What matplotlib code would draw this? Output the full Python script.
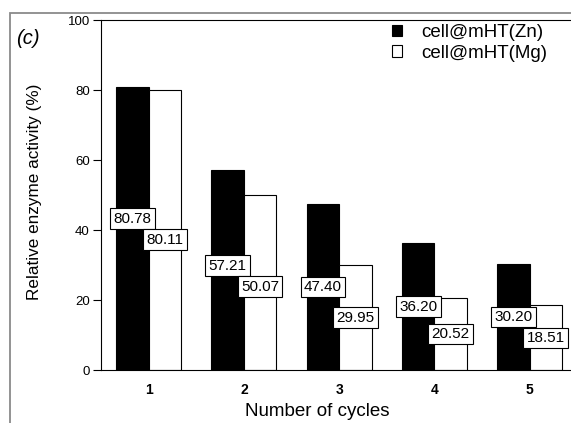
'''Relative enzyme activity over reuse cycles.'''

import numpy as np
import matplotlib
matplotlib.use('Agg')
import matplotlib.pyplot as plt
from matplotlib.patches import Rectangle

plt.rcParams['font.family'] = ['Liberation Sans', 'DejaVu Sans']

# data
cycles = [1, 2, 3, 4, 5]
activity_zn = [80.78, 57.21, 47.40, 36.20, 30.20]
activity_mg = [80.11, 50.07, 29.95, 20.52, 18.51]
series_names = ['cell@mHT(Zn)', 'cell@mHT(Mg)']
y_ticks = [0, 20, 40, 60, 80, 100]

W, H = 571, 423
fig = plt.figure(figsize=(W / 100, H / 100), dpi=100)
ax = fig.add_axes([101 / W, 53 / H, 481 / W, 350 / H])

# outer grey frame of the original panel (cropped on the right/bottom)
fig.patches.append(Rectangle((10 / W, -0.1), 1.2, 1 - 13 / H + 0.1,
                             transform=fig.transFigure, fill=False,
                             edgecolor='#8a8a8a', linewidth=1.3))
# cut-off panel caption at the top (only its lowest strokes show)
fig.text(297 / W, 1.0 + 4 / H, 'g)', ha='center', va='baseline', fontsize=14)

x = np.array(cycles, dtype=float)
w = 0.34
ax.bar(x - w / 2, activity_zn, width=w, color='black', edgecolor='black',
       linewidth=0.8, label=series_names[0])
ax.bar(x + w / 2, activity_mg, width=w, color='white', edgecolor='black',
       linewidth=0.8, label=series_names[1])

# value boxes roughly at half bar height, pushed apart when they collide
box = dict(boxstyle='square,pad=0.22', facecolor='white', edgecolor='black',
           linewidth=0.8)
for xi, a, b in zip(x, activity_zn, activity_mg):
    ya, yb = a / 2, b / 2
    if ya - yb < 6:
        mid = (ya + yb) / 2
        ya, yb = mid + 3, mid - 3
    ax.text(xi - w / 2, ya, f'{a:.2f}', ha='center', va='center',
            fontsize=11, bbox=box)
    ax.text(xi + w / 2, yb, f'{b:.2f}', ha='center', va='center',
            fontsize=11, bbox=box)

ax.set_xlim(0.5, 5.55)
ax.set_ylim(0, 100)
ax.set_xticks(cycles)
ax.set_yticks(y_ticks)
ax.tick_params(axis='x', length=0, pad=9, labelsize=10)
ax.tick_params(axis='y', direction='out', length=6, width=0.8, pad=2,
               labelsize=9.5)
for lbl in ax.get_xticklabels():
    lbl.set_fontweight('bold')
for sp in ax.spines.values():
    sp.set_linewidth(0.8)

ax.set_xlabel('Number of cycles', fontsize=13.5)
ax.xaxis.set_label_coords(317 / W, 1 - 403 / H, transform=fig.transFigure)
ax.set_ylabel('Relative enzyme activity (%)', fontsize=12.3)
ax.yaxis.set_label_coords(42 / W, 1 - 192 / H, transform=fig.transFigure)

fig.text(16 / W, 1 - 39 / H, '(c)', ha='left', va='center', fontsize=14.5,
         style='italic')

ax.legend(loc='upper left', bbox_to_anchor=(392 / W, 1 - 24 / H),
          bbox_transform=fig.transFigure, frameon=False, fontsize=13.5,
          handlelength=0.55, handleheight=0.55, handletextpad=1.0,
          labelspacing=0.2, borderpad=0, borderaxespad=0)

fig.savefig('out.png', dpi=100)
